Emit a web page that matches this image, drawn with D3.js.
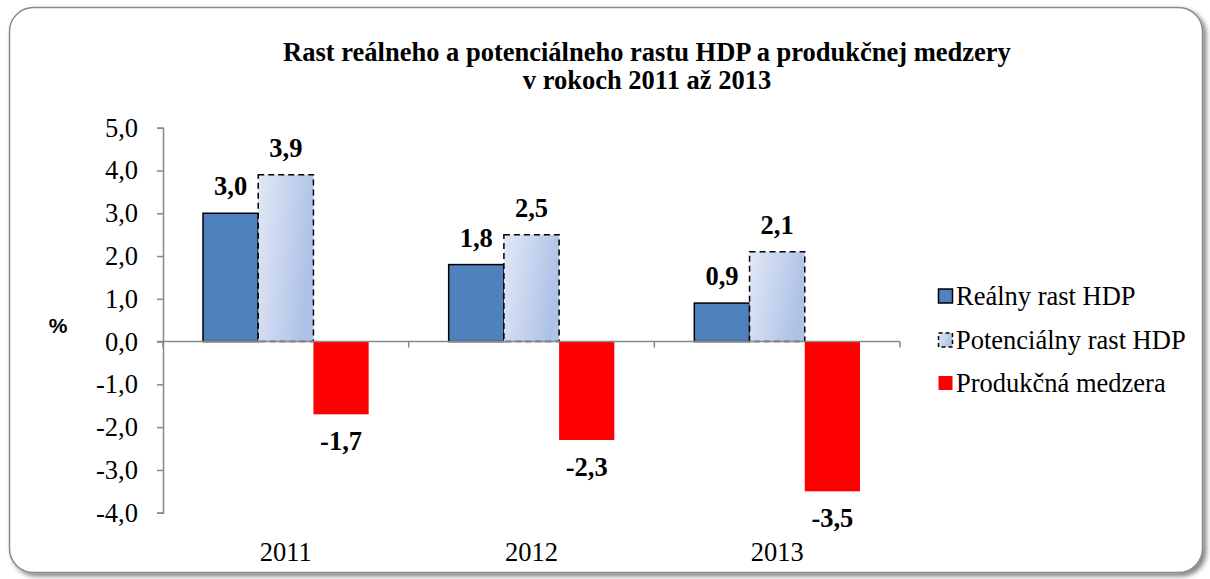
<!DOCTYPE html>
<html><head><meta charset="utf-8">
<script src="https://cdn.jsdelivr.net/npm/d3@7"></script>
<style>body{margin:0;background:#fff}svg{display:block}</style>
</head><body>
<script>
const categories = ["2011", "2012", "2013"];
const realGrowth = [3.0, 1.8, 0.9];
const potentialGrowth = [3.9, 2.5, 2.1];
const outputGap = [-1.7, -2.3, -3.5];
const seriesNames = ["Reálny rast HDP", "Potenciálny rast HDP", "Produkčná medzera"];
const yTicks = [5, 4, 3, 2, 1, 0, -1, -2, -3, -4];
const titleLines = ["Rast reálneho a potenciálneho rastu HDP a produkčnej medzery", "v rokoch 2011 až 2013"];

const W = 1210, H = 579;
const svg = d3.select("body").append("svg").attr("width", W).attr("height", H);
const defs = svg.append("defs");
const f = defs.append("filter").attr("id", "sh").attr("x", "-5%").attr("y", "-5%").attr("width", "110%").attr("height", "110%");
f.append("feDropShadow").attr("dx", 3).attr("dy", 3).attr("stdDeviation", 2.5).attr("flood-color", "#000").attr("flood-opacity", 0.5);
const g = defs.append("linearGradient").attr("id", "potGrad").attr("x1", "0").attr("y1", "0").attr("x2", "1").attr("y2", "0.3");
g.append("stop").attr("offset", "0").attr("stop-color", "#e2e8f5");
g.append("stop").attr("offset", "1").attr("stop-color", "#aec2e7");

svg.append("rect").attr("x", 9.5).attr("y", 7.5).attr("width", 1193).attr("height", 565)
  .attr("rx", 24).attr("ry", 24).attr("fill", "#fff").attr("stroke", "#8a8a8a").attr("stroke-width", 1.5)
  .attr("filter", "url(#sh)");

const serif = "'Liberation Serif','Times New Roman',serif";
const fs = 26.5;
const fmt = v => d3.format(".1f")(v).replace(".", ",").replace("\u2212", "-");

// title
svg.append("text").attr("x", 647).attr("y", 61).attr("text-anchor", "middle")
  .attr("font-family", serif).attr("font-weight", "bold").attr("font-size", fs)
  .selectAll("tspan").data(titleLines).join("tspan")
  .attr("x", 647).attr("dy", (d, i) => i === 0 ? 0 : 28).text(d => d);

const x0 = d3.scaleBand().domain(categories).range([163, 900]).paddingInner(0).paddingOuter(0);
const y = d3.scaleLinear().domain([-4, 5]).range([512.7, 127.7]);
const groupPad = 40;
const barW = (x0.bandwidth() - 2 * groupPad) / 3;

// y axis
const yAxis = d3.axisLeft(y).tickValues(yTicks).tickSize(6).tickPadding(19).tickFormat(fmt);
const ya = svg.append("g").attr("transform", "translate(163,0)").call(yAxis);
ya.selectAll("path,line").attr("stroke", "#888").attr("stroke-width", 1.5);
ya.selectAll("text").attr("font-family", serif).attr("font-size", fs).attr("fill", "#000");

// bars
const seriesData = [realGrowth, potentialGrowth, outputGap];
const styles = [
  {fill: "#4f81bd", stroke: "#000", dash: null},
  {fill: "url(#potGrad)", stroke: "#000", dash: "6,4"},
  {fill: "#ff0000", stroke: "none", dash: null}
];
seriesData.forEach((vals, si) => {
  const st = styles[si];
  svg.append("g").selectAll("rect").data(vals).join("rect")
    .attr("x", (d, i) => x0(categories[i]) + groupPad + si * barW)
    .attr("y", d => y(Math.max(0, d)))
    .attr("width", barW)
    .attr("height", d => Math.abs(y(d) - y(0)))
    .attr("fill", st.fill).attr("stroke", st.stroke).attr("stroke-width", 1.5)
    .attr("stroke-dasharray", st.dash);
});

// x axis
const xAxisLine = svg.append("g");
xAxisLine.append("line").attr("x1", 157).attr("x2", 900).attr("y1", y(0)).attr("y2", y(0)).attr("stroke", "#888").attr("stroke-width", 1.5);
xAxisLine.selectAll("line.t").data(categories.concat(["end"])).join("line").attr("class", "t")
  .attr("x1", (d, i) => i < 3 ? x0(d) : 900).attr("x2", (d, i) => i < 3 ? x0(d) : 900)
  .attr("y1", y(0)).attr("y2", y(0) + 6).attr("stroke", "#888").attr("stroke-width", 1.5);
svg.append("g").selectAll("text").data(categories).join("text")
  .attr("x", d => x0(d) + x0.bandwidth() / 2).attr("y", 561).attr("text-anchor", "middle")
  .attr("font-family", serif).attr("font-size", fs).text(d => d);

// data labels
seriesData.forEach((vals, si) => {
  svg.append("g").selectAll("text").data(vals).join("text")
    .attr("x", (d, i) => x0(categories[i]) + groupPad + si * barW + barW / 2)
    .attr("y", d => d >= 0 ? y(d) - 18 : y(d) + 36)
    .attr("text-anchor", "middle").attr("font-family", serif).attr("font-weight", "bold").attr("font-size", fs)
    .text(d => fmt(d));
});

// % label
svg.append("text").attr("x", 58).attr("y", 333).attr("text-anchor", "middle")
  .attr("font-family", "'Liberation Sans',Arial,sans-serif").attr("font-weight", "bold").attr("font-size", 21).text("%");

// legend
const leg = svg.append("g");
const legY = [296, 340, 383];
seriesNames.forEach((name, i) => {
  const st = styles[i];
  leg.append("rect").attr("x", 938.5).attr("y", legY[i] - 7).attr("width", 14).attr("height", 14)
    .attr("fill", st.fill).attr("stroke", st.stroke).attr("stroke-width", 1.5).attr("stroke-dasharray", st.dash ? "4,3" : null);
  leg.append("text").attr("x", 956).attr("y", legY[i] + 9).attr("font-family", serif).attr("font-size", fs).text(name);
});
</script>
</body></html>
